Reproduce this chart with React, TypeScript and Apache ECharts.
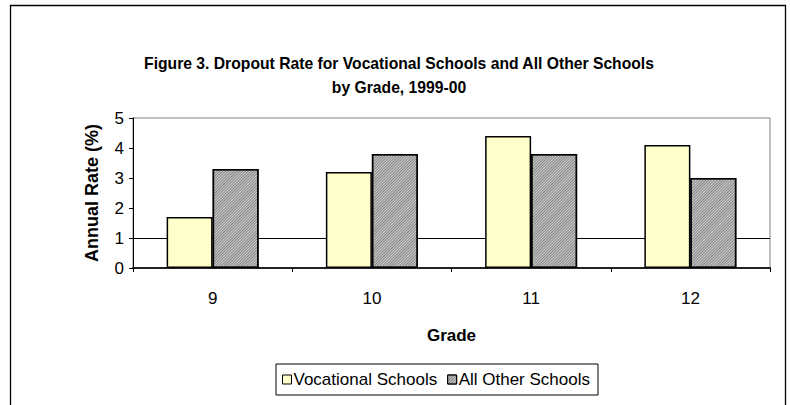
import React, { useEffect, useRef } from "react";
import * as echarts from "echarts";

const grades = ["9", "10", "11", "12"];
const vocational = [1.7, 3.2, 4.4, 4.1];
const allOther = [3.3, 3.8, 3.8, 3.0];
const seriesNames = ["Vocational Schools", "All Other Schools"];
const titleLines = [
  "Figure 3. Dropout Rate for Vocational Schools and All Other Schools",
  "by Grade, 1999-00",
];
const yAxisName = "Annual Rate (%)";
const xAxisName = "Grade";
const referenceLine = 1;

const FONT = "'Liberation Sans', Arial, sans-serif";

export default function App() {
  const ref = useRef<HTMLDivElement>(null);
  useEffect(() => {
    if (!ref.current) return;
    const chart = echarts.init(ref.current, undefined, { renderer: "svg" });
    chart.setOption({
      animation: false,
      backgroundColor: "#ffffff",
      textStyle: { fontFamily: FONT, color: "#000" },
      title: {
        text: titleLines.join("\n"),
        left: 394,
        textAlign: "center",
        top: 46,
        textStyle: {
          fontFamily: FONT,
          fontSize: 15.7,
          fontWeight: "bold",
          color: "#000",
          lineHeight: 24,
        },
      },
      graphic: [
        {
          type: "rect",
          silent: true,
          shape: { x: 10.5, y: 5.5, width: 775, height: 430 },
          style: { fill: "none", stroke: "#000", lineWidth: 1.3 },
          z: 0,
        },
      ],
      legend: {
        left: 276,
        top: 364,
        orient: "horizontal",
        itemWidth: 9,
        itemHeight: 9,
        itemGap: 10,
        padding: [7, 8, 7, 6],
        borderColor: "#000",
        borderWidth: 1,
        icon: "rect",
        itemStyle: { borderColor: "#000", borderWidth: 1 },
        textStyle: { fontFamily: FONT, fontSize: 17, color: "#000", padding: [0, 0, 0, -3] },
        data: seriesNames,
      },
      grid: {
        left: 133,
        right: 20,
        top: 118,
        bottom: 137,
        show: true,
        borderColor: "#808080",
        borderWidth: 1,
        backgroundColor: "transparent",
      },
      xAxis: {
        type: "category",
        data: grades,
        name: xAxisName,
        nameLocation: "middle",
        nameGap: 59,
        nameTextStyle: { fontFamily: FONT, fontSize: 17, fontWeight: "bold", color: "#000" },
        axisLine: { show: true, lineStyle: { color: "#222", width: 2 } },
        axisTick: { show: true, length: 4, alignWithLabel: false, lineStyle: { color: "#000" } },
        axisLabel: { fontFamily: FONT, fontSize: 17, color: "#000", margin: 22 },
        splitLine: { show: false },
      },
      yAxis: {
        type: "value",
        min: 0,
        max: 5,
        interval: 1,
        name: yAxisName,
        nameLocation: "middle",
        nameGap: 32,
        nameTextStyle: { fontFamily: FONT, fontSize: 18, fontWeight: "bold", color: "#000" },
        axisLine: { show: true, lineStyle: { color: "#000", width: 1 } },
        axisTick: { show: true, length: 4, inside: false, lineStyle: { color: "#000" } },
        axisLabel: { fontFamily: FONT, fontSize: 17, color: "#000", margin: 9 },
        splitLine: { show: false },
      },
      series: [
        {
          name: seriesNames[0],
          type: "bar",
          data: vocational,
          barWidth: 46,
          barGap: "0%",
          itemStyle: { color: "#FFFFCC", borderColor: "#000", borderWidth: 1.5 },
          markLine: {
            silent: true,
            z: 1,
            symbol: ["none", "none"],
            label: { show: false },
            lineStyle: { color: "#000", width: 1, type: "solid" },
            data: [{ yAxis: referenceLine }],
          },
        },
        {
          name: seriesNames[1],
          type: "bar",
          data: allOther,
          barWidth: 46,
          barGap: "0%",
          itemStyle: {
            color: "#d2d2d2",
            borderColor: "#000",
            borderWidth: 1.5,
            decal: {
              symbol: "rect",
              symbolSize: 1,
              color: "#808080",
              dashArrayX: [1, 0],
              dashArrayY: [1, 1],
              rotation: -Math.PI / 4,
            },
          },
        },
      ],
    });
    return () => chart.dispose();
  }, []);
  return (
    <div
      ref={ref}
      style={{ position: "absolute", left: 0, top: 0, width: 790, height: 405 }}
    />
  );
}
